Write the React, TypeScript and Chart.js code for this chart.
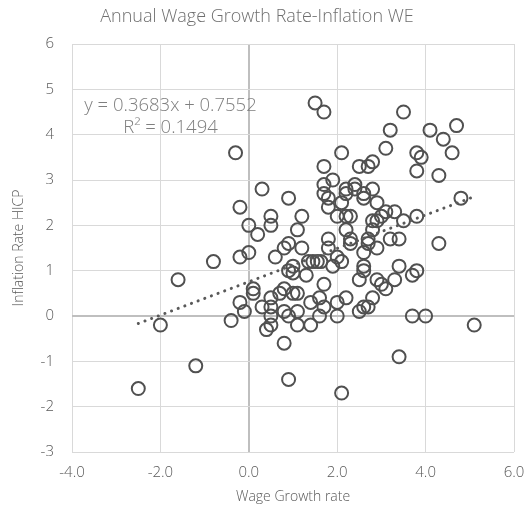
import React, { useEffect, useRef } from "react";
import { Chart, registerables } from "chart.js";

Chart.register(...registerables);

const chartTitle = "Annual Wage Growth Rate-Inflation WE";
const xAxisTitle = "Wage Growth rate";
const yAxisTitle = "Inflation Rate HICP";
const equationText = "y = 0.3683x + 0.7552";
const rSquaredText = "R² = 0.1494";

const trendSlope = 0.3683;
const trendIntercept = 0.7552;
const trendRange = [-2.5, 5.1];

const xTickValues = [-4, -2, 0, 2, 4, 6];

const wageGrowth = [
  -2.5, -2.0, -1.6, -1.2, -0.8, -0.3, -0.4, -0.2, -0.2, -0.2,
  -0.1, 0.0, 0.0, 0.1, 0.1, 0.2, 0.3, 0.3, 0.4, 0.5,
  0.5, 0.5, 0.5, 0.5, 0.5, 0.6, 0.7, 0.8, 0.8, 0.8,
  0.8, 0.9, 0.9, 0.9, 0.9, 0.9, 1.0, 1.0, 1.1, 1.0,
  1.1, 1.1, 1.1, 1.2, 1.2, 1.3, 1.4, 1.4, 1.35, 1.45,
  1.55, 1.63, 1.5, 1.6, 1.6, 1.7, 1.7, 1.7, 1.7, 1.7,
  1.7, 1.8, 1.8, 1.8, 1.8, 1.9, 1.9, 2.0, 2.0, 2.0,
  2.0, 2.1, 2.1, 2.1, 2.1, 2.2, 2.2, 2.2, 2.2, 2.2,
  2.3, 2.3, 2.3, 2.4, 2.4, 2.5, 2.5, 2.5, 2.6, 2.6,
  2.6, 2.6, 2.6, 2.6, 2.7, 2.7, 2.7, 2.7, 2.8, 2.8,
  2.8, 2.8, 2.8, 2.9, 2.9, 2.9, 2.9, 3.0, 3.0, 3.1,
  3.1, 3.1, 3.2, 3.2, 3.3, 3.3, 3.4, 3.4, 3.4, 3.5,
  3.5, 3.7, 3.7, 3.8, 3.8, 3.8, 3.8, 3.9, 4.0, 4.1,
  4.3, 4.3, 4.4, 4.6, 4.7, 4.8, 5.1,
];

const inflationRate = [
  -1.6, -0.2, 0.8, -1.1, 1.2, 3.6, -0.1, 2.4, 1.3, 0.3,
  0.1, 2.0, 1.4, 0.6, 0.5, 1.8, 2.8, 0.2, -0.3, -0.2,
  0.0, 0.2, 0.4, 2.2, 2.0, 1.3, 0.5, 0.6, 0.1, 1.5,
  -0.6, 2.6, 1.6, 1.0, 0.0, -1.4, 1.1, 0.5, 0.5, 0.95,
  0.1, -0.2, 1.9, 2.2, 1.5, 0.9, 0.3, -0.2, 1.2, 1.2,
  1.2, 1.2, 4.7, 0.0, 0.4, 0.2, 0.7, 4.5, 3.3, 2.9,
  2.7, 2.6, 2.4, 1.7, 1.5, 3.0, 1.1, 2.2, 1.3, 0.0,
  0.3, 1.2, 3.6, 2.5, -1.7, 2.8, 2.7, 2.2, 1.9, 0.4,
  2.2, 1.7, 1.6, 2.9, 2.8, 3.3, 0.8, 0.1, 2.7, 2.6,
  1.4, 1.1, 1.0, 0.2, 3.3, 1.7, 1.6, 0.2, 3.4, 2.8,
  2.1, 1.9, 0.4, 2.5, 2.1, 1.5, 0.8, 2.2, 0.7, 3.7,
  2.3, 0.6, 4.1, 1.7, 2.3, 0.8, 1.7, 1.1, -0.9, 4.5,
  2.1, 0.9, 0.0, 3.6, 3.2, 2.2, 1.0, 3.5, 0.0, 4.1,
  3.1, 1.6, 3.9, 3.6, 4.2, 2.6, -0.2,
];

const FONT = "'Open Sans', 'Noto Sans', sans-serif";
const TEXT_COLOR = "#595959";

const equationPlugin = {
  id: "equationLabel",
  afterDatasetsDraw(chart: any) {
    const ctx = chart.ctx;
    const area = chart.chartArea;
    ctx.save();
    ctx.font = `300 18.5px ${FONT}`;
    ctx.fillStyle = "#7f7f7f";
    ctx.textAlign = "center";
    ctx.textBaseline = "middle";
    const cx = 170.5;
    ctx.fillText(equationText, cx, area.top + 62);
    ctx.fillText(rSquaredText, cx, area.top + 84);
    ctx.restore();
  },
};

export default function App() {
  const canvasRef = useRef<HTMLCanvasElement | null>(null);

  useEffect(() => {
    document.body.style.margin = "0";
    const canvas = canvasRef.current;
    if (!canvas) return;

    const points = wageGrowth.map((x, i) => ({ x, y: inflationRate[i] }));
    const trendPoints = trendRange.map((x) => ({ x, y: trendSlope * x + trendIntercept }));

    const gridColor = (c: any) => (c.tick && c.tick.value === 0 ? "#bfbfbf" : "#d9d9d9");
    const gridWidth = (c: any) => (c.tick && c.tick.value === 0 ? 2 : 1);

    const chart = new Chart(canvas, {
      type: "scatter",
      data: {
        datasets: [
          {
            type: "line",
            label: "Trend",
            data: trendPoints,
            borderColor: "#595959",
            borderWidth: 3,
            borderDash: [0.1, 7],
            borderCapStyle: "round",
            pointRadius: 0,
            fill: false,
          } as any,
          {
            label: "Data",
            data: points,
            pointRadius: 6.5,
            pointHoverRadius: 6.5,
            pointBorderWidth: 2,
            borderColor: "#505050",
            backgroundColor: "rgba(0,0,0,0)",
          },
        ],
      },
      options: {
        animation: false,
        responsive: false,
        maintainAspectRatio: false,
        layout: { padding: { left: 0, right: 17, top: 0, bottom: 0 } },
        plugins: {
          legend: { display: false },
          tooltip: { enabled: false },
          title: {
            display: true,
            text: chartTitle,
            color: "#6f6f6f",
            font: { family: FONT, size: 18, weight: "300" as any, lineHeight: 1.2 },
            padding: { top: 6, bottom: 16.4 },
          },
        },
        scales: {
          x: {
            type: "linear",
            min: -4,
            max: 6,
            afterBuildTicks: (scale: any) => {
              scale.ticks = xTickValues.map((v) => ({ value: v }));
            },
            afterFit: (scale: any) => {
              scale.height = 56;
              scale.paddingLeft = 0;
              scale.paddingRight = 0;
            },
            grid: { drawTicks: false, color: gridColor, lineWidth: gridWidth },
            border: { display: false },
            ticks: {
              padding: 12,
              color: TEXT_COLOR,
              font: { family: FONT, size: 15, weight: "300" as any },
              callback: (v: any) => Number(v).toFixed(1),
            },
            title: {
              display: true,
              text: xAxisTitle,
              color: TEXT_COLOR,
              font: { family: FONT, size: 14, weight: "300" as any },
              padding: { top: 0, bottom: 3 },
            },
          },
          y: {
            type: "linear",
            min: -3,
            max: 6,
            afterFit: (scale: any) => {
              scale.width = 72;
              scale.paddingTop = 0;
              scale.paddingBottom = 0;
            },
            grid: { drawTicks: false, color: gridColor, lineWidth: gridWidth },
            border: { display: false },
            ticks: {
              stepSize: 1,
              padding: 18,
              color: TEXT_COLOR,
              font: { family: FONT, size: 15, weight: "300" as any },
            },
            title: {
              display: true,
              text: yAxisTitle,
              color: TEXT_COLOR,
              font: { family: FONT, size: 14, weight: "300" as any },
              padding: { top: 11, bottom: 0 },
            },
          },
        },
      },
      plugins: [equationPlugin],
    });

    return () => chart.destroy();
  }, []);

  return (
    <div style={{ width: 531, height: 508 }}>
      <canvas ref={canvasRef} width={531} height={508} style={{ display: "block" }} />
    </div>
  );
}
